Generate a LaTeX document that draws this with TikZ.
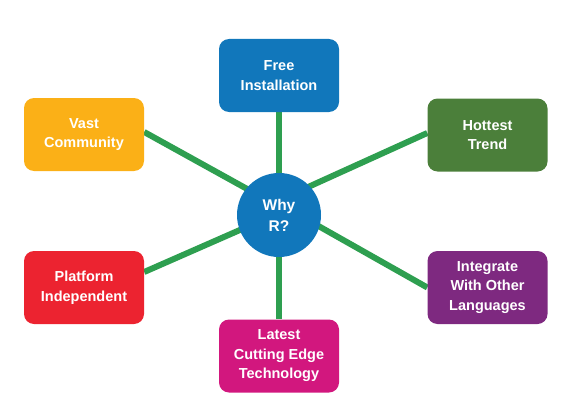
\documentclass[tikz,border=0pt]{standalone}
\usepackage{fontspec}
\setmainfont{Liberation Sans}
\usetikzlibrary{backgrounds}
\definecolor{cblue}{HTML}{1177BB}
\definecolor{corange}{HTML}{FBB017}
\definecolor{cgreen}{HTML}{4B7F3A}
\definecolor{cred}{HTML}{EC2330}
\definecolor{cmagenta}{HTML}{D2177E}
\definecolor{cpurple}{HTML}{7E2980}
\definecolor{lgreen}{HTML}{2E9F50}
\begin{document}
\begin{tikzpicture}[x=1pt,y=-1pt,
  box/.style={rounded corners=10pt, minimum width=120pt, minimum height=73pt,
    text=white, font=\bfseries\fontsize{14.5}{19.5}\selectfont, align=center, inner sep=0pt},
  hub/.style={circle, fill=cblue, minimum size=84pt, inner sep=0pt,
    text=white, font=\bfseries\fontsize{15.5}{21}\selectfont, align=center},
  conn/.style={draw=lgreen, line width=6pt}]
\useasboundingbox (0,0) rectangle (570,420);
\node[box, fill=cblue] (free) at (279,75.5) {Free\\Installation};
\node[box, fill=corange] (vast) at (84,134.5) {Vast\\Community};
\node[box, fill=cgreen] (hot) at (487.5,135) {Hottest\\Trend};
\node[box, fill=cred] (plat) at (84,287.5) {Platform\\Independent};
\node[box, fill=cpurple] (integ) at (487.5,287.5) {Integrate\\With Other\\Languages};
\node[box, fill=cmagenta] (latest) at (279,356) {Latest\\Cutting Edge\\Technology};
\node[hub] (why) at (279,215) {Why\\R?};
\begin{scope}[on background layer]
  \draw[conn, shorten >=-6pt] (free.south) -- (why.north);
  \draw[conn, shorten <=-6pt] (why.south) -- (latest.north);
  \draw[conn, shorten >=-6pt] ([yshift=2.5pt]vast.east) -- (why.141);
  \draw[conn, shorten >=-6pt] ([yshift=2pt]hot.west) -- (why.43);
  \draw[conn, shorten >=-6pt] ([yshift=15.5pt]plat.east) -- (why.201);
  \draw[conn, shorten >=-6pt] (integ.west) -- (why.-16);
\end{scope}
\end{tikzpicture}
\end{document}
